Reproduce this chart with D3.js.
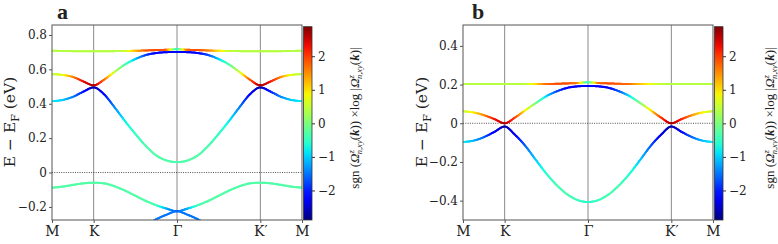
<!DOCTYPE html>
<html>
<head>
<meta charset="utf-8">
<script src="https://d3js.org/d3.v7.min.js"></script>
<style>
  body { margin: 0; background: #fff; }
  svg text { font-family: "DejaVu Serif", serif; fill: #222; }
  .tick text { font-size: 12px; }
</style>
</head>
<body>
<div id="chart"></div>
<script>
// k-path: M - K - Gamma - K' - M
var kTicks = [0, 1, 3, 5, 6];
var kLabels = ["M", "K", "Γ", "K′", "M"];
var kGrid = [0, 0.25, 0.5, 0.75, 1, 1.25, 1.5, 1.75, 2, 2.25, 2.5, 2.75, 3,
             3.25, 3.5, 3.75, 4, 4.25, 4.5, 4.75, 5, 5.25, 5.5, 5.75, 6];

// panel a : energies (eV) and Berry-curvature colour values
var aFlatE = [0.708, 0.707, 0.706, 0.705, 0.705, 0.705, 0.706, 0.707, 0.708, 0.710, 0.712, 0.714, 0.717,
              0.714, 0.712, 0.710, 0.708, 0.707, 0.706, 0.705, 0.705, 0.705, 0.706, 0.707, 0.708];
var aFlatC = [0.4, 0.4, 0.4, 0.4, 0.4, 0.4, 0.4, 0.5, 1.2, 1.8, 1.9, 1.8, -0.7,
              1.8, 1.9, 1.6, 1.0, 0.5, 0.4, 0.4, 0.4, 0.4, 0.4, 0.4, 0.4];
var aUpE = [0.572, 0.568, 0.556, 0.530, 0.507, 0.540, 0.585, 0.628, 0.660, 0.683, 0.695, 0.700, 0.701,
            0.700, 0.695, 0.683, 0.660, 0.628, 0.585, 0.540, 0.507, 0.530, 0.556, 0.568, 0.572];
var aUpC = [0.4, 0.7, 1.5, 2.3, 2.7, 1.8, 0.5, -0.3, -1.0, -1.8, -2.2, -2.3, -2.2,
            -2.3, -2.2, -1.8, -1.0, -0.3, 0.5, 1.8, 2.7, 2.3, 1.5, 0.7, 0.4];
var aLowE = [0.415, 0.422, 0.440, 0.470, 0.495, 0.455, 0.380, 0.300, 0.225, 0.155, 0.100, 0.070, 0.061,
             0.070, 0.100, 0.155, 0.225, 0.300, 0.380, 0.455, 0.495, 0.470, 0.440, 0.422, 0.415];
var aLowC = [-0.8, -1.0, -1.4, -2.0, -2.7, -2.2, -1.4, -0.8, -0.5, -0.35, -0.3, -0.3, -0.35,
             -0.3, -0.3, -0.35, -0.5, -0.8, -1.4, -2.2, -2.7, -2.0, -1.4, -1.0, -0.8];
var aVbE = [-0.088, -0.082, -0.072, -0.063, -0.059, -0.063, -0.080, -0.105, -0.135, -0.165, -0.190, -0.210, -0.225,
            -0.210, -0.190, -0.165, -0.135, -0.105, -0.080, -0.063, -0.059, -0.063, -0.072, -0.082, -0.088];
var aVbC = [-0.3, -0.3, -0.3, -0.3, -0.3, -0.3, -0.3, -0.3, -0.3, -0.3, -0.4, -1.2, -1.6,
            -1.2, -0.4, -0.3, -0.3, -0.3, -0.3, -0.3, -0.3, -0.3, -0.3, -0.3, -0.3];
var aDeepK = [2.25, 2.5, 2.75, 3, 3.25, 3.5, 3.75];
var aDeepE = [-0.31, -0.272, -0.245, -0.225, -0.245, -0.272, -0.31];
var aDeepC = [-1.5, -1.5, -1.5, -1.5, -1.5, -1.5, -1.5];

// panel b
var bFlatE = [0.203, 0.203, 0.203, 0.203, 0.203, 0.203, 0.203, 0.203, 0.203, 0.204, 0.206, 0.208, 0.212,
              0.208, 0.206, 0.204, 0.203, 0.203, 0.203, 0.203, 0.203, 0.203, 0.203, 0.203, 0.203];
var bFlatC = [0.4, 0.4, 0.4, 0.4, 0.4, 0.4, 0.45, 1.0, 1.7, 1.9, 1.9, 1.6, -0.6,
              1.7, 1.9, 1.8, 1.7, 1.2, 0.8, 0.5, 0.4, 0.4, 0.4, 0.4, 0.4];
var bUpE = [0.062, 0.056, 0.042, 0.022, 0.000, 0.030, 0.068, 0.105, 0.140, 0.165, 0.183, 0.191, 0.193,
            0.191, 0.183, 0.165, 0.140, 0.105, 0.068, 0.030, 0.000, 0.022, 0.042, 0.056, 0.062];
var bUpC = [0.5, 0.9, 1.5, 2.2, 2.7, 2.0, 0.9, 0.0, -0.9, -1.7, -2.2, -2.3, -2.2,
            -2.3, -2.2, -1.7, -0.9, 0.0, 0.9, 2.0, 2.7, 2.2, 1.5, 0.9, 0.5];
var bLowE = [-0.097, -0.090, -0.072, -0.045, -0.017, -0.060, -0.118, -0.190, -0.260, -0.320, -0.367, -0.397, -0.407,
             -0.397, -0.367, -0.320, -0.260, -0.190, -0.118, -0.060, -0.017, -0.045, -0.072, -0.090, -0.097];
var bLowC = [-0.8, -1.1, -1.6, -2.2, -2.7, -2.3, -1.6, -1.0, -0.6, -0.4, -0.35, -0.45, -0.6,
             -0.45, -0.35, -0.4, -0.6, -1.0, -1.6, -2.3, -2.7, -2.2, -1.6, -1.1, -0.8];

var aTicks = [-0.2, 0, 0.2, 0.4, 0.6, 0.8];
var bTicks = [-0.4, -0.2, 0, 0.2, 0.4];
var cbarTicks = [-2, -1, 0, 1, 2];
var cbarRange = [-2.88, 2.88];

// matplotlib jet
var jr = d3.scaleLinear().domain([0, 0.35, 0.66, 0.89, 1]).range([0, 0, 1, 1, 0.5]).clamp(true);
var jg = d3.scaleLinear().domain([0, 0.125, 0.375, 0.64, 0.91, 1]).range([0, 0, 1, 1, 0, 0]).clamp(true);
var jb = d3.scaleLinear().domain([0, 0.11, 0.34, 0.65, 1]).range([0.5, 1, 1, 0, 0]).clamp(true);
function jet(t) {
    return d3.rgb(jr(t) * 255, jg(t) * 255, jb(t) * 255).toString();
}
var cNorm = d3.scaleLinear().domain(cbarRange).range([0, 1]).clamp(true);

var svg = d3.select("#chart").append("svg")
    .attr("width", 778)
    .attr("height", 244);

var defs = svg.append("defs");
var grad = defs.append("linearGradient").attr("id", "jetgrad")
    .attr("x1", 0).attr("y1", 1).attr("x2", 0).attr("y2", 0);
d3.range(0, 1.0001, 0.05).forEach(function(t) {
    grad.append("stop").attr("offset", t).attr("stop-color", jet(t));
});

function fmt(d) { return d === 0 ? "0" : d3.format(".1f")(d); }

function drawPanel(p) {
    var x = d3.scaleLinear().domain([0, 6]).range([p.left, p.right]);
    var y = d3.scaleLinear().domain(p.yDomain).range([220, 25]);

    defs.append("clipPath").attr("id", "clip" + p.name)
        .append("rect").attr("x", p.left).attr("y", 25)
        .attr("width", p.right - p.left).attr("height", 195);

    // high-symmetry lines
    svg.append("g").selectAll("line")
        .data(kTicks.slice(1, 4))
        .enter().append("line")
        .attr("x1", d => x(d)).attr("x2", d => x(d))
        .attr("y1", 25).attr("y2", 220)
        .attr("stroke", "#8a8a8a").attr("stroke-width", 1);

    // Fermi level
    svg.append("line")
        .attr("x1", p.left).attr("x2", p.right)
        .attr("y1", y(0)).attr("y2", y(0))
        .attr("stroke", "#222").attr("stroke-width", 0.8)
        .attr("stroke-dasharray", "1,1.3");

    var bandG = svg.append("g").attr("clip-path", "url(#clip" + p.name + ")");
    p.bands.forEach(function(b) {
        var ks = b.k || kGrid;
        var pts = ks.map((k, i) => [k, b.e[i]]);
        var line = d3.line().x(d => x(d[0])).y(d => y(d[1])).curve(d3.curveMonotoneX);
        var path = bandG.append("path").attr("d", line(pts)).attr("fill", "none").attr("stroke", "none");
        var node = path.node();
        var L = node.getTotalLength();
        var cScale = d3.scaleLinear().domain(ks).range(b.c);
        var n = Math.ceil(L / 1.2);
        var sp = d3.range(n + 1).map(i => node.getPointAtLength(L * i / n));
        for (var i = 0; i < n; i++) {
            var mx = (sp[i].x + sp[i + 1].x) / 2;
            bandG.append("line")
                .attr("x1", sp[i].x).attr("y1", sp[i].y)
                .attr("x2", sp[i + 1].x).attr("y2", sp[i + 1].y)
                .attr("stroke", jet(cNorm(cScale(x.invert(mx)))))
                .attr("stroke-width", 2)
                .attr("stroke-linecap", "round");
        }
        path.remove();
    });

    // frame
    svg.append("rect")
        .attr("x", p.left).attr("y", 25)
        .attr("width", p.right - p.left).attr("height", 195)
        .attr("fill", "none").attr("stroke", "#555").attr("stroke-width", 1);

    // axes
    var yAxis = svg.append("g")
        .attr("transform", "translate(" + p.left + ",0)")
        .call(d3.axisLeft(y).tickValues(p.yTicks).tickFormat(fmt).tickSize(3).tickPadding(2));
    var xAxis = svg.append("g")
        .attr("transform", "translate(0,220)")
        .call(d3.axisBottom(x).tickValues(kTicks).tickFormat((d, i) => kLabels[i]).tickSize(3).tickPadding(3));
    [yAxis, xAxis].forEach(function(ax) {
        ax.select(".domain").remove();
        ax.selectAll(".tick line").attr("stroke", "#555");
    });
    xAxis.selectAll(".tick text").style("font-size", "14px");

    // y label
    var yl = svg.append("text")
        .attr("transform", "translate(" + p.ylabelX + ",122) rotate(-90)")
        .attr("text-anchor", "middle")
        .style("font-size", "15.5px");
    yl.append("tspan").text("E − E");
    yl.append("tspan").attr("dy", 4).style("font-size", "11px").text("F");
    yl.append("tspan").attr("dy", -4).text(" (eV)");

    // panel letter
    svg.append("text")
        .attr("x", p.letterX).attr("y", 19)
        .style("font-family", "'Liberation Serif', serif")
        .style("font-weight", "bold").style("font-size", "22px")
        .text(p.name);

    // colorbar
    var cy = d3.scaleLinear().domain(cbarRange).range([220, 26.7]);
    svg.append("rect")
        .attr("x", p.right + 1.5).attr("y", 26.7)
        .attr("width", 8.5).attr("height", 193.3)
        .attr("fill", "url(#jetgrad)").attr("stroke", "#333").attr("stroke-width", 0.8);
    var cax = svg.append("g")
        .attr("transform", "translate(" + (p.right + 10) + ",0)")
        .call(d3.axisRight(cy).tickValues(cbarTicks).tickFormat(d3.format("d")).tickSize(3).tickPadding(3));
    cax.select(".domain").remove();
    cax.selectAll(".tick line").attr("stroke", "#333");

    var cl = svg.append("text")
        .attr("transform", "translate(" + p.cbarLabelX + ",118) rotate(-90)")
        .attr("text-anchor", "middle")
        .style("font-family", "'Liberation Serif', serif")
        .style("font-size", "13px");
    function omega(t) {
        t.append("tspan").style("font-style", "italic").text("Ω");
        t.append("tspan").attr("dy", -5).style("font-size", "8.5px").style("font-style", "italic").text("z");
        t.append("tspan").attr("dx", -4).attr("dy", 8).style("font-size", "8.5px").style("font-style", "italic").text("n,xy");
        t.append("tspan").attr("dy", -3).text("(");
        t.append("tspan").style("font-weight", "bold").style("font-style", "italic").text("k");
    }
    cl.append("tspan").text("sgn (");
    omega(cl);
    cl.append("tspan").text(")) ×log |");
    omega(cl);
    cl.append("tspan").text(")|");
}

drawPanel({
    name: "a", left: 52, right: 302, yDomain: [-0.276, 0.858], yTicks: aTicks,
    ylabelX: 15, letterX: 57, cbarLabelX: 359,
    bands: [
        { k: aDeepK, e: aDeepE, c: aDeepC },
        { e: aVbE, c: aVbC },
        { e: aLowE, c: aLowC },
        { e: aUpE, c: aUpC },
        { e: aFlatE, c: aFlatC }
    ]
});
drawPanel({
    name: "b", left: 463, right: 713, yDomain: [-0.5, 0.508], yTicks: bTicks,
    ylabelX: 427, letterX: 472, cbarLabelX: 774,
    bands: [
        { e: bLowE, c: bLowC },
        { e: bUpE, c: bUpC },
        { e: bFlatE, c: bFlatC }
    ]
});
</script>
</body>
</html>
